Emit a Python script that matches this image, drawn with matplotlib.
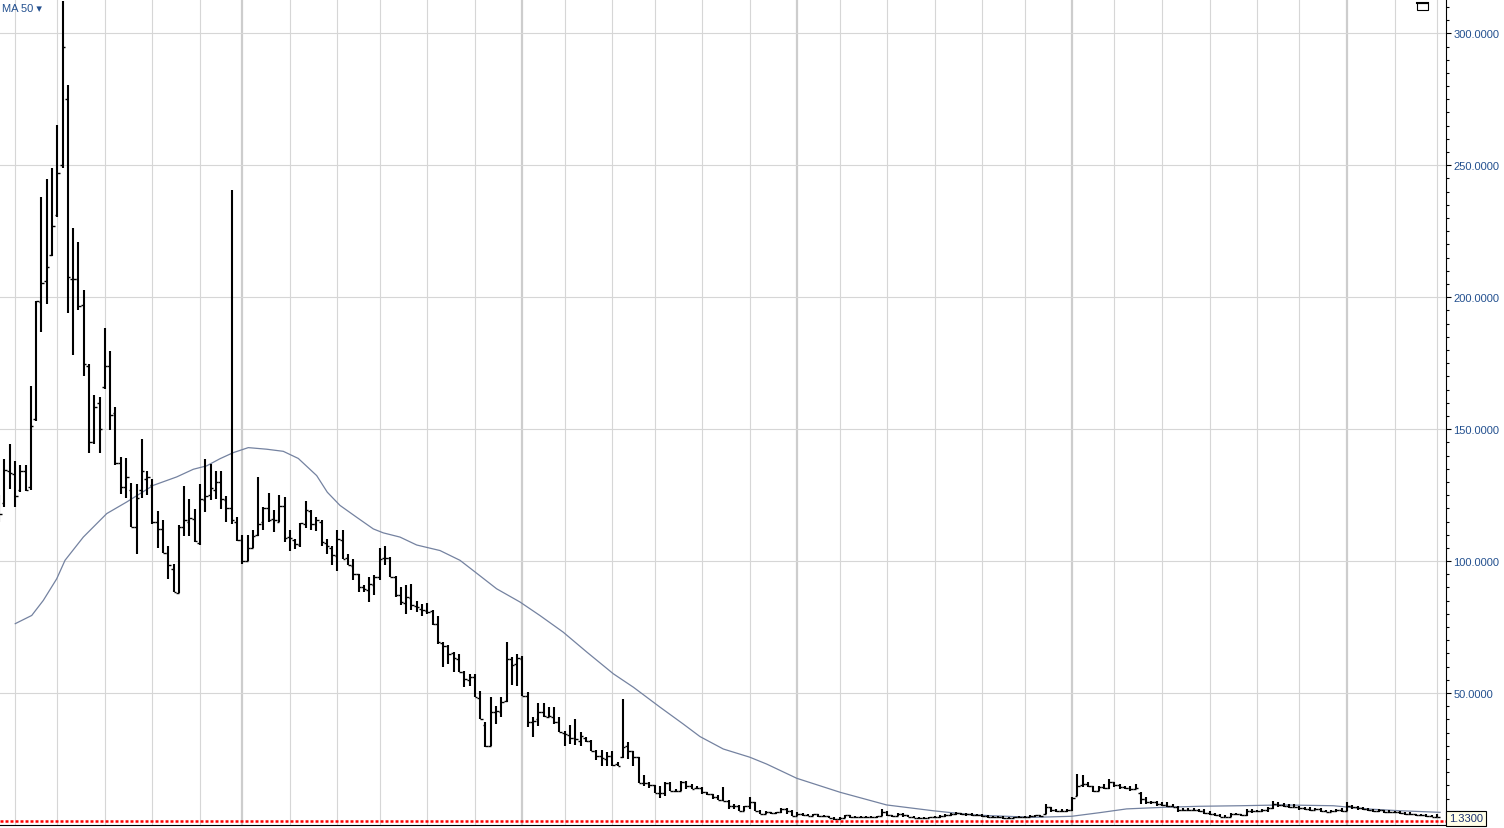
import matplotlib
matplotlib.use("Agg")
import matplotlib.pyplot as plt
import matplotlib.transforms as mtransforms
from matplotlib.patches import Rectangle
from matplotlib.ticker import MultipleLocator
import numpy as np
import pandas as pd

plt.rcParams['font.family'] = ['Liberation Sans', 'DejaVu Sans']

# weekly bars (monday), first bar date
start_date = "2017-02-13"

opens = [
    120, 122, 134, 133, 127, 134, 128, 154, 198, 206,
    216, 231, 250, 275, 207, 207, 197, 174, 145, 160,
    166, 174, 156, 137, 128, 127, 113, 127, 131, 129,
    115, 112, 103, 97, 88, 113, 115, 116, 107, 123,
    125, 127, 130, 123, 120, 115, 108, 100, 105, 110,
    115, 120, 116, 115, 121, 109, 108, 106, 114, 119,
    114, 115, 107, 105, 102, 108, 101, 98, 95, 90,
    89, 91, 94, 101, 101, 94, 87, 84, 86, 83,
    82, 81, 81, 76, 69, 68, 65, 63, 58, 55,
    56, 48, 38, 30, 43, 43, 47, 63, 61, 63,
    49, 39, 40, 43, 41, 41, 39, 35, 34, 33,
    32, 33, 32, 28, 26, 25, 26, 23, 25.8, 30,
    28, 25.6, 16, 16, 15, 12.3, 12.3, 16.1, 13, 13,
    16.3, 14.8, 14, 14, 12.4, 11.8, 10.5, 9.6, 9.2, 7.3,
    7.3, 5.4, 7.3, 8.6, 5.4, 4.2, 4.8, 4.5, 4.8, 6.1,
    5.4, 3.3, 4.2, 3.8, 3.5, 4.0, 3.3, 3.3, 2.7, 2.2,
    2.7, 3.6, 2.9, 2.9, 3.2, 2.9, 3.0, 3.3, 4.8, 3.8,
    3.3, 4.2, 3.6, 3.0, 2.7, 2.6, 2.8, 3.0, 3.2, 3.4,
    3.7, 4.2, 4.4, 4.0, 4.2, 3.8, 3.9, 3.5, 3.0, 3.1,
    3.0, 2.6, 2.8, 3.0, 2.9, 3.1, 3.5, 3.6, 4.2, 6.7,
    5.5, 5.2, 5.4, 5.8, 11.1, 15, 15.5, 14.9, 13.0, 14.3,
    14.0, 16.2, 15.0, 14.3, 14.0, 13.6, 12, 9.8, 8.6, 8.6,
    8.0, 7.6, 7.3, 6.7, 5.8, 5.8, 5.6, 5.8, 5.2, 4.4,
    4.2, 3.6, 3.2, 3.2, 4.0, 4.2, 3.8, 5.4, 5.2, 5.4,
    5.6, 6.3, 7.8, 7.6, 7.3, 7.0, 6.7, 6.3, 6.1, 5.8,
    6.0, 5.4, 5.0, 5.2, 5.8, 5.4, 7.3, 6.7, 6.4, 6.1,
    5.8, 5.4, 5.6, 5.0, 4.8, 5.0, 4.5, 4.2, 4.0, 3.8,
    3.6, 3.5, 3.2,
]
highs = [
    125, 138.7, 144.3, 138, 136.5, 136.5, 166.3, 198.6, 238, 244.8,
    249, 265.4, 312.2, 280.6, 226.2, 220.9, 202.6, 174.8, 163, 162.1,
    188.3, 179.8, 158.3, 139.6, 139, 129.6, 129.2, 146.2, 134, 131,
    119, 115.4, 105.7, 99, 113.5, 128.3, 123.5, 119.8, 129.2, 138.7,
    136.8, 134.3, 134.3, 124.8, 240.5, 116.6, 110, 110, 111.6, 131.8,
    120.5, 125.8, 119.2, 125.2, 124.3, 111.6, 108.5, 114.5, 122.6, 119.5,
    116.7, 115.7, 108.5, 105.7, 111.9, 111.9, 102.8, 100.9, 95.2, 90.8,
    93.9, 94.6, 104.9, 105.7, 101.5, 94.3, 90.1, 91, 91.4, 84.7,
    83.8, 84.2, 81.3, 79.1, 69.2, 68.2, 65.5, 64.8, 58.2, 57.2,
    57.2, 50.9, 39, 48.4, 45.2, 48.6, 69.2, 63.5, 64.8, 64.2,
    50.3, 40.8, 46.1, 46.2, 44.6, 44.9, 41.1, 35.5, 37.8, 40.1,
    35.1, 33.5, 32.2, 28.5, 28.5, 27.8, 28.1, 23.7, 47.7, 31.3,
    28.2, 25.8, 19, 16.3, 15.2, 14.8, 16.3, 16.3, 13.5, 16.6,
    16.5, 15.4, 14.8, 14.5, 12.6, 11.9, 11.2, 14.5, 9.3, 7.9,
    7.4, 7.3, 10.5, 8.7, 5.5, 5.4, 5.1, 5.1, 6.5, 6.3,
    5.5, 4.8, 4.6, 4.2, 4.2, 4.2, 3.8, 3.5, 3.0, 2.9,
    3.8, 3.8, 3.3, 3.3, 3.5, 3.3, 3.5, 6.1, 5.2, 3.9,
    4.6, 4.4, 3.8, 3.3, 3.0, 3.0, 3.2, 3.3, 3.6, 4.0,
    4.5, 4.8, 4.6, 4.5, 4.4, 4.2, 4.1, 3.8, 3.4, 3.5,
    3.3, 3.0, 3.2, 3.3, 3.3, 3.8, 3.9, 3.8, 8.0, 6.8,
    6.1, 6.1, 6.1, 10.5, 19.3, 19.0, 16.2, 14.9, 14.9, 15.5,
    17.4, 16.2, 15.5, 14.9, 14.9, 15.5, 12.4, 10.5, 9.2, 9.2,
    8.6, 8.6, 8.0, 7.3, 6.3, 6.3, 6.3, 6.1, 6.1, 5.4,
    4.6, 4.2, 3.8, 4.6, 4.6, 4.2, 6.1, 6.1, 5.8, 6.1,
    6.7, 9.1, 8.6, 8.3, 8.0, 8.0, 7.3, 6.7, 6.7, 6.3,
    6.3, 5.8, 5.8, 6.1, 6.3, 8.6, 7.5, 7.3, 6.7, 6.5,
    6.1, 6.1, 5.8, 5.8, 5.4, 5.2, 4.8, 4.8, 4.3, 4.2,
    4.2, 3.9, 4.2,
]
lows = [
    115, 120.4, 127.4, 120.4, 126, 126.7, 127, 153, 187, 197.3,
    215.5, 230.3, 249, 194.2, 178, 195.2, 170, 141, 144.3, 140.8,
    165.4, 149.5, 136.3, 125.3, 124, 112.8, 102.8, 124, 125, 114,
    105, 103, 93.3, 88.3, 88, 109.7, 109.4, 107.4, 106.2, 118.5,
    123, 123.5, 119.8, 115, 114, 107.7, 99, 100, 104.9, 109.5,
    111.6, 114.8, 111, 114.8, 107.2, 103.7, 104.4, 105.5, 112.6, 111.6,
    111.3, 105.7, 102.8, 98.6, 96.1, 100.9, 98.4, 92.7, 88.2, 88.2,
    84.4, 87, 92.7, 98.6, 93.9, 86.3, 83.2, 80, 81.3, 80.7,
    79.1, 80, 75.6, 68.6, 59.7, 61, 57.8, 57.8, 52.2, 52.5,
    48.4, 40.1, 29.7, 29.8, 38.2, 41.1, 46.5, 53, 52.8, 49,
    37.3, 33.2, 37.6, 40.8, 40.8, 38.2, 35.1, 30, 30.6, 30.3,
    30, 31.3, 28.1, 24.7, 22.4, 22.4, 22.4, 22.4, 25.5, 24.9,
    22.4, 16.1, 14.8, 14.2, 12.3, 10.4, 11, 12.9, 12.5, 12.9,
    13.8, 13.8, 13.6, 11.8, 11.2, 9.9, 9.6, 9.2, 6.1, 6.1,
    5.4, 5.4, 6.1, 5.4, 4.2, 4.2, 4.2, 4.2, 4.6, 4.2,
    3.3, 3.3, 3.5, 3.3, 3.3, 3.0, 2.9, 2.5, 1.9, 2.0,
    2.5, 2.7, 2.5, 2.6, 2.7, 2.5, 2.7, 3.3, 3.5, 3.0,
    3.3, 3.2, 2.9, 2.5, 2.4, 2.3, 2.5, 2.7, 2.8, 3.0,
    3.3, 3.8, 3.6, 3.5, 3.4, 3.3, 3.2, 2.8, 2.6, 2.7,
    2.4, 2.3, 2.5, 2.6, 2.5, 2.9, 3.0, 3.1, 4.2, 5.0,
    5.0, 4.8, 5.0, 5.2, 11.1, 14.3, 14.3, 12.6, 13.0, 13.6,
    13.6, 14.3, 13.6, 13.6, 13.0, 13.6, 8.0, 8.0, 8.0, 7.3,
    7.3, 6.7, 6.7, 5.0, 5.4, 5.4, 5.4, 5.0, 4.2, 3.8,
    3.3, 2.9, 2.9, 3.2, 3.8, 3.5, 3.5, 4.5, 4.8, 4.8,
    5.0, 6.1, 6.7, 6.7, 6.4, 6.7, 5.8, 5.8, 5.4, 5.6,
    5.0, 4.8, 4.8, 5.0, 5.0, 5.4, 6.1, 5.8, 5.8, 5.4,
    5.0, 5.0, 4.6, 4.5, 4.5, 4.2, 3.9, 3.6, 3.5, 3.4,
    3.2, 3.0, 2.9,
]
closes = [
    118, 134.4, 133.5, 124.6, 134, 127, 151.3, 198.4, 205.4, 211.5,
    226.9, 247.2, 294.7, 207.5, 206.8, 196.6, 174.8, 145, 158.3, 150,
    174, 155.5, 137, 128, 132, 113, 124, 134, 132, 115,
    112, 103, 98.6, 88.3, 112.8, 115.4, 116.2, 107.8, 123.5, 124.8,
    127.6, 129.8, 123.5, 120, 115.4, 108, 100, 105, 109.5, 114,
    120, 115.7, 115.4, 121, 108.7, 108.7, 106.6, 114.5, 119.2, 114.2,
    115.4, 107.2, 105.7, 102.4, 108.5, 100.9, 98.4, 95.2, 90.1, 89.5,
    91.4, 93.9, 100.9, 101.1, 93.9, 87.2, 84.4, 86.3, 83.2, 82.6,
    81.3, 80.7, 76.2, 69.5, 68, 64.8, 63.2, 57.8, 55.3, 55.9,
    48.4, 40.1, 30, 42.7, 43.3, 46.7, 62.9, 60.8, 63.2, 49,
    38.9, 39.5, 42.7, 41.4, 41.4, 38.9, 35.1, 34.4, 32.9, 32.5,
    33.8, 31.9, 28.1, 26.2, 25.2, 26.2, 22.8, 22.4, 29.7, 28.1,
    25.6, 16.1, 15.8, 15, 12.3, 12.3, 16.1, 12.9, 12.9, 16.3,
    14.8, 13.8, 14, 12.4, 11.8, 10.5, 9.6, 9.2, 7.3, 7.3,
    5.4, 7.3, 8.6, 5.4, 4.2, 4.8, 4.5, 4.8, 6.1, 5.4,
    3.3, 4.2, 3.8, 3.5, 4.0, 3.3, 3.3, 2.7, 2.2, 2.7,
    3.6, 2.9, 2.9, 3.2, 2.9, 3.0, 3.3, 4.8, 3.8, 3.3,
    4.2, 3.6, 3.0, 2.7, 2.6, 2.8, 3.0, 3.2, 3.4, 3.7,
    4.2, 4.4, 4.0, 4.2, 3.8, 3.9, 3.5, 3.0, 3.1, 3.0,
    2.6, 2.8, 3.0, 2.9, 3.1, 3.5, 3.6, 3.4, 6.7, 5.5,
    5.2, 5.4, 5.8, 10.2, 14.9, 15.5, 14.9, 13.0, 14.3, 14.0,
    16.2, 15.0, 14.3, 14.0, 13.6, 14.0, 9.8, 8.6, 8.6, 8.0,
    7.6, 7.3, 6.7, 5.8, 5.8, 5.6, 5.8, 5.2, 4.4, 4.2,
    3.6, 3.2, 3.2, 4.0, 4.2, 3.8, 5.4, 5.2, 5.4, 5.6,
    6.3, 7.8, 7.6, 7.3, 7.0, 6.7, 6.3, 6.1, 5.8, 6.0,
    5.4, 5.0, 5.2, 5.8, 5.4, 7.3, 6.7, 6.4, 6.1, 5.8,
    5.4, 5.6, 5.0, 4.8, 5.0, 4.5, 4.2, 4.0, 3.8, 3.6,
    3.5, 3.2, 2.9,
]

# MA 50 line (bar index, value)
ma_pos = [3.06, 6.17, 8.36, 10.9, 12.47, 15.93, 20.36, 24.14, 29.17, 33.6,
          36.74, 39.27, 41.79, 44.3, 47.14, 50.62, 53.76, 56.6, 60.08, 62.09,
          64.49, 67.65, 70.79, 72.68, 75.84, 79.0, 83.41, 87.19, 90.03, 94.13,
          98.54, 102.3, 106.7, 111.2, 116.2, 120.0, 125.0, 129.4, 132.6, 137.0,
          142.0, 145.2, 150.9, 159.1, 167.9, 176.7, 184.3, 189.3, 195.7, 202.9,
          208.3, 213.3, 220.3, 227.2, 234.8, 242.9, 252.4, 258.7, 265.0, 272.6]
ma_val = [76.3, 79.4, 85.1, 93.3, 100.3, 109.1, 118, 122.4, 128.7, 131.9,
          134.8, 136.1, 138.8, 141.1, 143, 142.4, 141.6, 138.9, 132.4, 126.1,
          121.1, 116.6, 112.2, 110.7, 109.1, 106.1, 104, 100.3, 95.9, 89.5,
          84.5, 79.4, 73.1, 65.5, 57.3, 52.2, 44.7, 38.3, 33.5, 28.8,
          25.7, 23.1, 17.7, 12.4, 7.6, 5.4, 3.8, 3.4, 2.9, 3.3,
          4.7, 6.1, 6.7, 7.1, 7.3, 7.6, 7.3, 6.1, 5.4, 4.8]

ref_level = 1.33
y_ticks = [50, 100, 150, 200, 250, 300]

n = len(closes)
dates = pd.date_range(start_date, periods=n, freq="7D")
x = np.arange(n)

fig = plt.figure(figsize=(15.04, 8.29), dpi=100)
fig.patch.set_facecolor("white")
ax = fig.add_axes([0, 3 / 829, 1445.5 / 1504, 826 / 829])

# вертикальная сетка: каждые 2 месяца, январь толще
for i in range(1, n):
    if dates[i].month != dates[i - 1].month and dates[i].month % 2 == 1:
        if dates[i].month == 1:
            ax.axvline(i, color="#cdcdcd", lw=1.6, zorder=0)
        else:
            ax.axvline(i, color="#d6d6d6", lw=0.8, zorder=0)
for v in y_ticks:
    ax.axhline(v, color="#d6d6d6", lw=0.8, zorder=0)

# скользящая средняя
ax.plot(ma_pos, ma_val, color="#7482a0", lw=0.9, zorder=2)

# OHLC бары
ax.vlines(x, lows, highs, color="black", lw=1.5, zorder=3)
ax.hlines(opens, x - 0.5, x, color="black", lw=1.0, zorder=3)
ax.hlines(closes, x, x + 0.5, color="black", lw=1.0, zorder=3)

# красная пунктирная линия уровня
ax.axhline(ref_level, color="#ff0000", lw=1.8, ls=(0, (1.2, 0.8)), zorder=4)

ax.set_xlim(0.17, 273.63)
ax.set_ylim(0, 313)

for s in ["left", "top"]:
    ax.spines[s].set_visible(False)
ax.spines["right"].set_color("black")
ax.spines["right"].set_linewidth(0.8)
ax.spines["bottom"].set_color("black")
ax.spines["bottom"].set_linewidth(0.8)

ax.set_xticks([])
ax.yaxis.tick_right()
ax.set_yticks(y_ticks)
ax.set_yticklabels([f"{v:.4f}" for v in y_ticks])
ax.yaxis.set_minor_locator(MultipleLocator(5))
ax.tick_params(axis="y", which="major", direction="out", length=3.6, width=0.8,
               pad=2, labelsize=8, color="black", labelcolor="#23508f")
ax.tick_params(axis="y", which="minor", direction="out", length=2.0, width=0.8,
               color="black")

# подпись уровня справа
trans = mtransforms.blended_transform_factory(ax.transAxes, ax.transData)
ax.annotate(f"{ref_level:.4f}", xy=(1.0, ref_level), xycoords=trans,
            xytext=(2.5, 2.2), textcoords="offset points", ha="left", va="center",
            fontsize=8, color="#1a2f6e", annotation_clip=False,
            bbox=dict(boxstyle="square,pad=0.25", fc="#ffffe8", ec="black", lw=0.8))

# легенда индикатора
ax.text(0.0015, 0.995, "MA 50 \u25be", transform=ax.transAxes, ha="left", va="top",
        fontsize=8, color="#23508f")

# значок окна в правом верхнем углу
ax.add_patch(Rectangle((0.9803, 0.9867), 0.0076, 0.0085, transform=ax.transAxes,
                       fill=False, ec="black", lw=0.8, clip_on=False))
ax.plot([0.9803, 0.9879], [0.9952, 0.9952], transform=ax.transAxes,
        color="black", lw=1.5, clip_on=False)

fig.savefig("out.png", dpi=100)
